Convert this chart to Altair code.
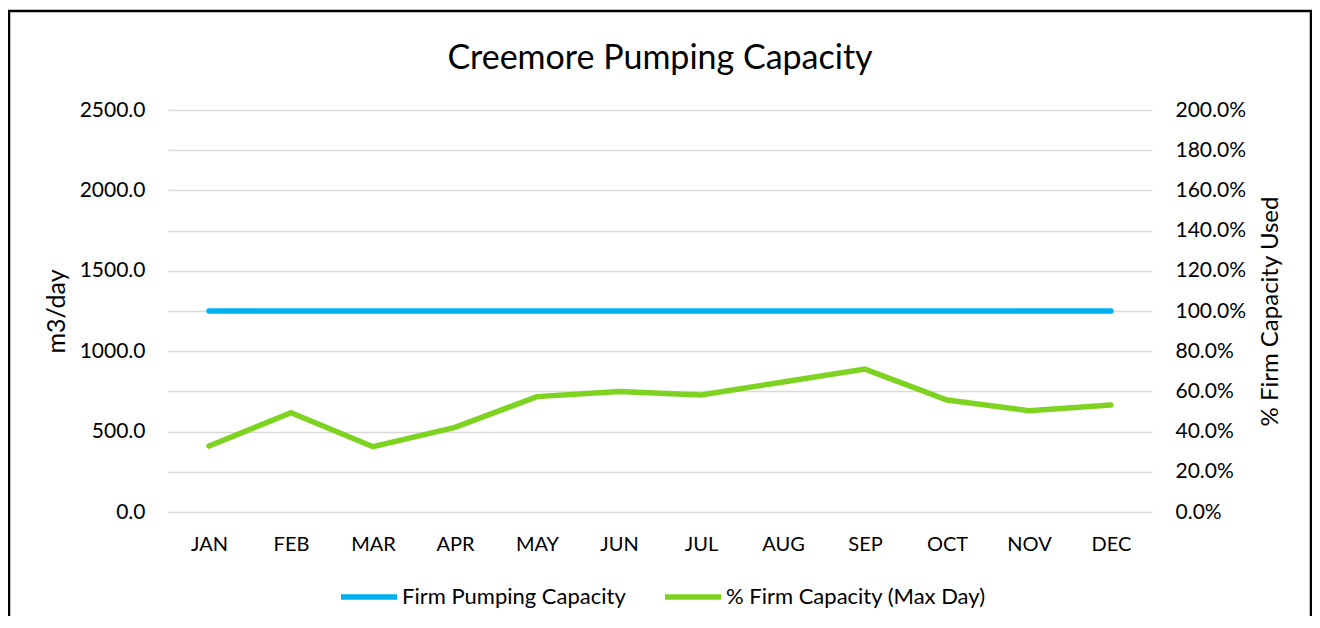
import altair as alt
import pandas as pd

months = ["JAN", "FEB", "MAR", "APR", "MAY", "JUN", "JUL", "AUG", "SEP", "OCT", "NOV", "DEC"]
firm_capacity = [1250.0] * 12
pct_firm_max_day = [0.328, 0.494, 0.325, 0.421, 0.574, 0.599, 0.582, 0.647, 0.711, 0.557, 0.504, 0.532]

series_names = ["Firm Pumping Capacity", "% Firm Capacity (Max Day)"]
series_colors = ["#00B0F0", "#7ED321"]

df = pd.DataFrame({
    "month": months,
    "firm": firm_capacity,
    "pct": pct_firm_max_day,
    "s1": series_names[0],
    "s2": series_names[1],
})

FONT = "Lato"

x_enc = alt.X(
    "month:N",
    sort=months,
    scale=alt.Scale(type="point", padding=0.5),
    axis=alt.Axis(title=None, labelAngle=0, ticks=False, domain=False, labelPadding=22,
                  labelFontSize=20, labelFont=FONT, labelColor="#000000", grid=False),
)

color_scale = alt.Scale(domain=series_names, range=series_colors)

legend = alt.Legend(
    title=None, orient="none", legendX=170, legendY=456, direction="horizontal",
    symbolType="stroke", symbolSize=3136, symbolStrokeWidth=5.5, labelFontSize=22,
    labelFont=FONT, labelColor="#000000", columnPadding=28, labelOffset=2, labelLimit=600,
)

base = alt.Chart(df)

firm_line = base.mark_line(strokeWidth=5.5, strokeCap="round").encode(
    x=x_enc,
    y=alt.Y("firm:Q", scale=alt.Scale(domain=[0, 2500]),
            axis=alt.Axis(title="m3/day", values=[0, 500, 1000, 1500, 2000, 2500], format=".1f",
                          grid=False, ticks=False, domain=False, labelPadding=23,
                          labelFontSize=21, labelFont=FONT, labelColor="#000000",
                          titleFontSize=25, titleFont=FONT, titleFontWeight="normal",
                          titleColor="#000000", titlePadding=10)),
    color=alt.Color("s1:N", scale=color_scale, legend=legend),
)

pct_line = base.mark_line(strokeWidth=5.5, strokeCap="round").encode(
    x=x_enc,
    y=alt.Y("pct:Q", scale=alt.Scale(domain=[0, 2]),
            axis=alt.Axis(title="% Firm Capacity Used", orient="right",
                          values=[round(0.2 * i, 1) for i in range(11)], format=".1%",
                          grid=True, gridColor="#D9D9D9", gridWidth=1.3,
                          ticks=False, domain=False, labelPadding=23,
                          labelFontSize=21, labelFont=FONT, labelColor="#000000",
                          titleFontSize=24, titleFont=FONT, titleFontWeight="normal",
                          titleColor="#000000", titlePadding=37, titleAngle=270)),
    color=alt.Color("s2:N", scale=color_scale, legend=legend),
)

frame = alt.Chart(alt.Data(values=[{"a": 1}])).mark_rect(
    filled=False, stroke="#000000", strokeWidth=2.5, clip=False
).encode(
    x=alt.value(-159), x2=alt.value(1143), y=alt.value(-99), y2=alt.value(530)
)

chart = alt.layer(pct_line, firm_line, frame).resolve_scale(
    y="independent", color="shared"
).properties(
    width=984,
    height=402,
    title=alt.TitleParams("Creemore Pumping Capacity", fontSize=34, font=FONT,
                          fontWeight="normal", color="#000000", anchor="middle", offset=-66),
    autosize=alt.AutoSizeParams(type="none"),
    padding={"left": 160, "top": 102, "right": 160, "bottom": 104},
).configure_view(stroke=None)

chart.save("out.html", embed_options={"renderer": "svg", "actions": False})
